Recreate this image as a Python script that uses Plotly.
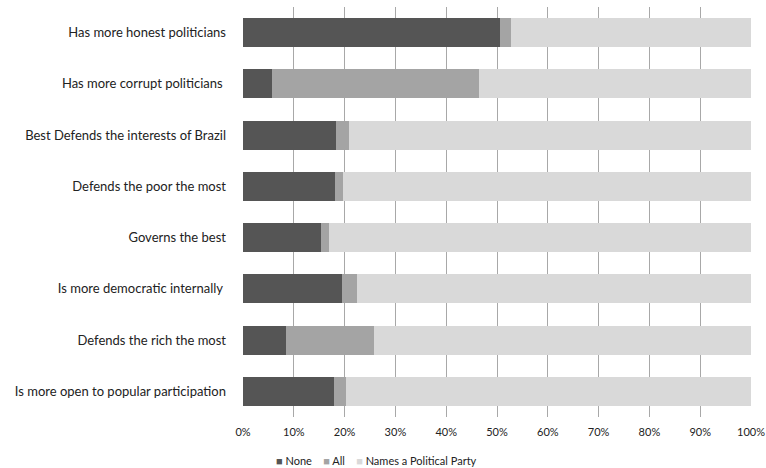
import plotly.graph_objects as go

categories = [
    "Has more honest politicians",
    "Has more corrupt politicians ",
    "Best Defends the interests of Brazil",
    "Defends the poor the most",
    "Governs the best",
    "Is more democratic internally ",
    "Defends the rich the most",
    "Is more open to popular participation",
]
none_pct = [50.6, 5.7, 18.3, 18.1, 15.4, 19.4, 8.5, 17.9]
all_pct = [2.2, 40.8, 2.6, 1.5, 1.6, 3.1, 17.3, 2.3]
party_pct = [round(100 - n - a, 1) for n, a in zip(none_pct, all_pct)]

tick_vals = [0, 10, 20, 30, 40, 50, 60, 70, 80, 90, 100]
tick_text = [f"{v}%" for v in tick_vals]

series_names = ["None", "All", "Names a Political Party"]
series_values = [none_pct, all_pct, party_pct]
series_colors = ["#555555", "#a4a4a4", "#d9d9d9"]

fig = go.Figure()
for name, vals, color in zip(series_names, series_values, series_colors):
    fig.add_trace(go.Bar(
        y=categories, x=vals, name=name, orientation="h",
        marker=dict(color=color, line=dict(width=0)),
        hovertemplate="%{y}: %{x}%<extra>" + name + "</extra>",
        showlegend=False,
    ))

# compact legend row below the axis: small coloured squares followed by names
legend_html = "&nbsp;&nbsp;&nbsp;&nbsp;".join(
    f"<span style='color:{c}'>■</span>&nbsp;{n}" for n, c in zip(series_names, series_colors)
)
fig.add_annotation(
    text=legend_html, xref="paper", yref="paper",
    x=0.263, y=-0.107, xanchor="center", yanchor="middle",
    showarrow=False, font=dict(size=11, color="#222222"),
)

fig.update_layout(
    barmode="stack",
    bargap=0.43,
    width=766, height=468,
    margin=dict(l=243, r=15, t=7, b=51, autoexpand=False),
    paper_bgcolor="white", plot_bgcolor="white",
    font=dict(family="Lato, Carlito, sans-serif", color="#222222"),
    showlegend=False,
)
fig.update_xaxes(
    range=[0, 100], tickvals=tick_vals, ticktext=tick_text,
    showgrid=True, gridcolor="#a8a8a8", gridwidth=1,
    zeroline=False, showline=False, automargin=False,
    tickfont=dict(size=11), ticks="", ticklabelstandoff=7,
)
fig.update_yaxes(
    categoryorder="array", categoryarray=categories, autorange="reversed",
    tickfont=dict(size=13), ticks="", ticklabelstandoff=16,
    showgrid=False, zeroline=False, showline=False, automargin=False,
)

fig.write_html("out.html")
